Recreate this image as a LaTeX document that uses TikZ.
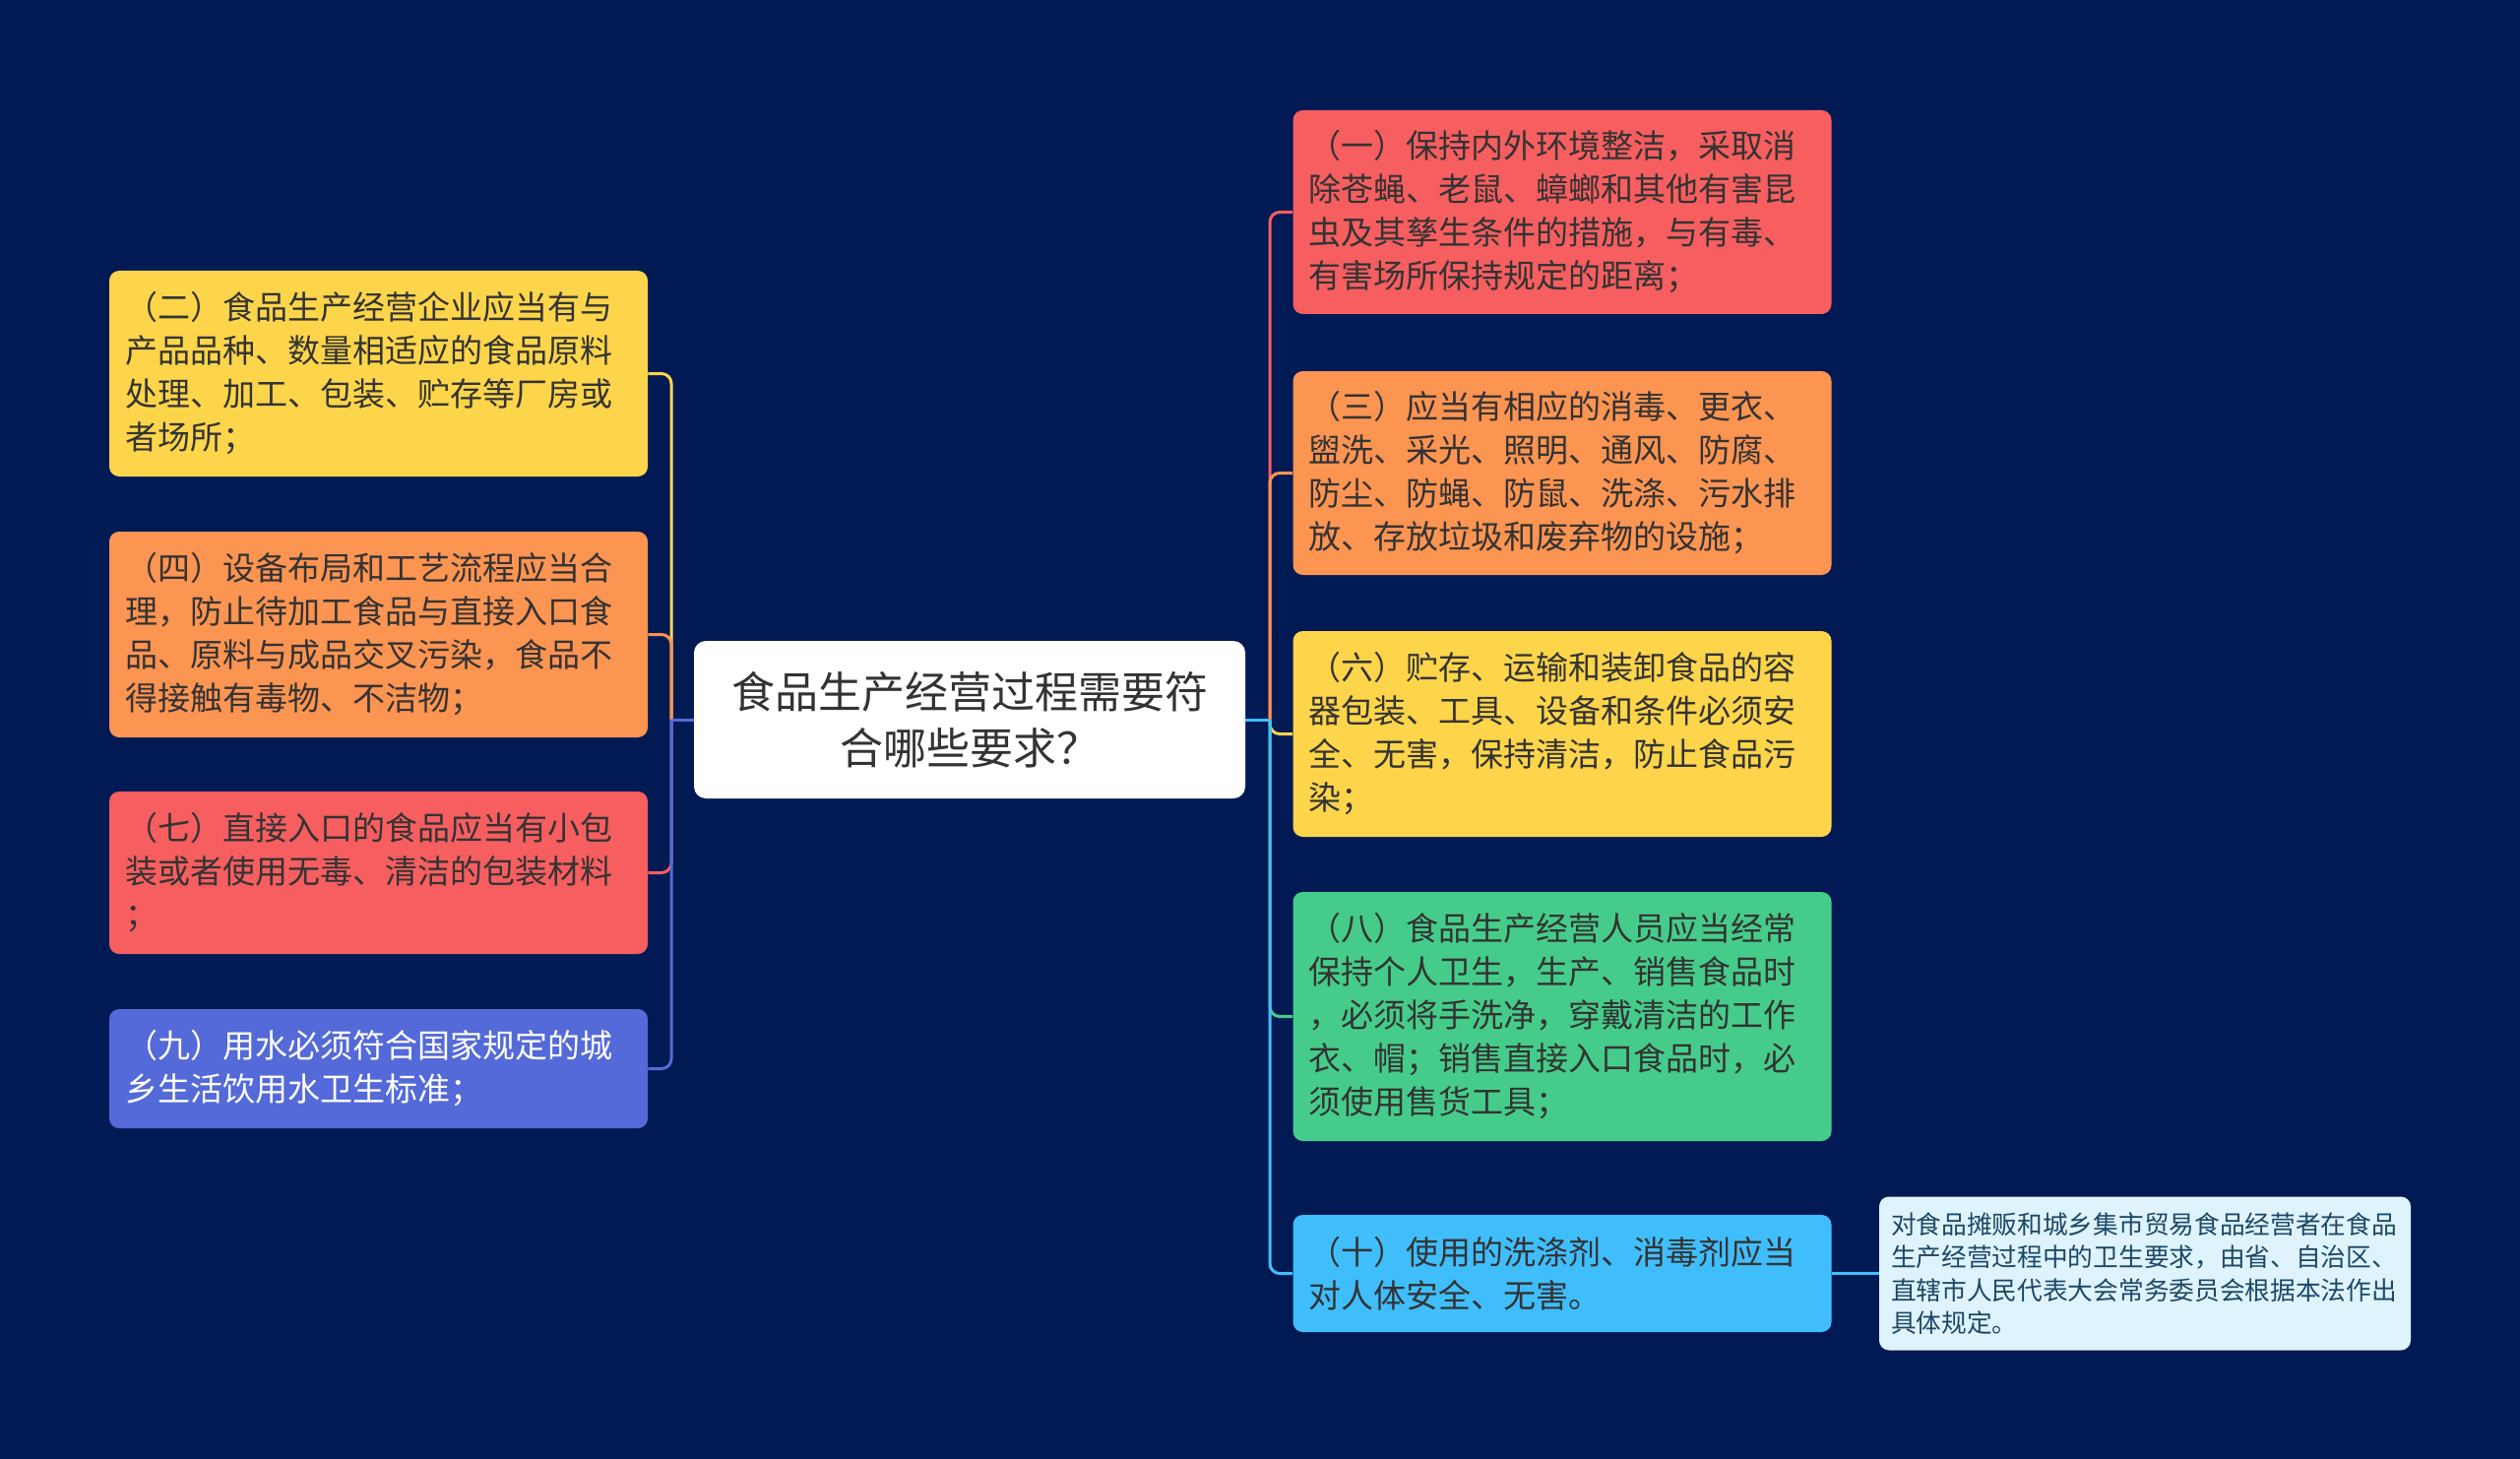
\documentclass[tikz,border=0pt]{standalone}
\usepackage{fontspec}
\setmainfont{Noto Sans CJK SC}
\usetikzlibrary{positioning}

\definecolor{bgnavy}{RGB}{2,26,84}
\definecolor{cred}{RGB}{246,94,96}
\definecolor{corange}{RGB}{252,148,82}
\definecolor{cyellow}{RGB}{253,213,74}
\definecolor{cgreen}{RGB}{70,204,138}
\definecolor{ccyan}{RGB}{64,190,252}
\definecolor{cblue}{RGB}{84,106,216}
\definecolor{notefill}{RGB}{222,243,252}
\definecolor{notetext}{RGB}{28,72,102}
\definecolor{txtdark}{RGB}{51,51,51}

\begin{document}
\begin{tikzpicture}
    [x=0.5pt, y=-0.5pt,
     root/.style={fill=white, rounded corners=6pt, align=center, minimum width=280pt, minimum height=80pt, font=\fontsize{22pt}{28.5pt}\selectfont, text=txtdark},
     item/.style={rounded corners=5pt, inner xsep=8pt, inner ysep=0pt, text width=257.5pt, align=left, font=\fontsize{16.5pt}{22pt}\selectfont, text=txtdark},
     note/.style={fill=notefill, rounded corners=5pt, inner xsep=6pt, inner ysep=0pt, text width=258pt, align=left, minimum height=78pt, font=\fontsize{12.85pt}{16.75pt}\selectfont, text=notetext},
     link/.style={line width=1.5pt, rounded corners=5pt}]
    \fill[bgnavy] (0,0) rectangle (2560,1482);

    % centre
    \node[root] (c) at (985,731) {食品生产经营过程需要符\\合哪些要求？};
    \coordinate (lj) at (682,731);
    \coordinate (rj) at (1290,731);

    % left side
    \node[item, fill=cyellow, minimum height=104.5pt] (n2) at (384.5,379.5) {（二）食品生产经营企业应当有与\\产品品种、数量相适应的食品原料\\处理、加工、包装、贮存等厂房或\\者场所；};
    \node[item, fill=corange, minimum height=104.5pt] (n4) at (384.5,644.5) {（四）设备布局和工艺流程应当合\\理，防止待加工食品与直接入口食\\品、原料与成品交叉污染，食品不\\得接触有毒物、不洁物；};
    \node[item, fill=cred, minimum height=82.5pt] (n7) at (384.5,886.5) {（七）直接入口的食品应当有小包\\装或者使用无毒、清洁的包装材料\\；};
    \node[item, fill=cblue, minimum height=60.5pt, text=white] (n9) at (384.5,1085.5) {（九）用水必须符合国家规定的城\\乡生活饮用水卫生标准；};

    % right side
    \node[item, fill=cred, minimum height=103.5pt] (n1) at (1587,215.5) {（一）保持内外环境整洁，采取消\\除苍蝇、老鼠、蟑螂和其他有害昆\\虫及其孳生条件的措施，与有毒、\\有害场所保持规定的距离；};
    \node[item, fill=corange, minimum height=103.5pt] (n3) at (1587,480.5) {（三）应当有相应的消毒、更衣、\\盥洗、采光、照明、通风、防腐、\\防尘、防蝇、防鼠、洗涤、污水排\\放、存放垃圾和废弃物的设施；};
    \node[item, fill=cyellow, minimum height=104.5pt] (n6) at (1587,745.5) {（六）贮存、运输和装卸食品的容\\器包装、工具、设备和条件必须安\\全、无害，保持清洁，防止食品污\\染；};
    \node[item, fill=cgreen, minimum height=126.5pt] (n8) at (1587,1032.5) {（八）食品生产经营人员应当经常\\保持个人卫生，生产、销售食品时\\，必须将手洗净，穿戴清洁的工作\\衣、帽；销售直接入口食品时，必\\须使用售货工具；};
    \node[item, fill=ccyan, minimum height=59.5pt] (n10) at (1587,1293.5) {（十）使用的洗涤剂、消毒剂应当\\对人体安全、无害。};
    \node[note] (nt) at (2179,1293.5) {对食品摊贩和城乡集市贸易食品经营者在食品\\生产经营过程中的卫生要求，由省、自治区、\\直辖市人民代表大会常务委员会根据本法作出\\具体规定。};

    % connectors
    \draw[link, cyellow] (lj) |- (n2.east);
    \draw[link, corange] (lj) |- (n4.east);
    \draw[link, cred] (lj) |- (n7.east);
    \draw[link, cblue] (lj) |- (n9.east);
    \draw[link, cblue] (c.west) -- (lj);
    \draw[link, cred] (rj) |- (n1.west);
    \draw[link, corange] (rj) |- (n3.west);
    \draw[link, cyellow] (rj) |- (n6.west);
    \draw[link, cgreen] (rj) |- (n8.west);
    \draw[link, ccyan] (rj) |- (n10.west);
    \draw[link, ccyan] (c.east) -- (rj);
    \draw[link, ccyan] (n10.east) -- (nt.west);
\end{tikzpicture}
\end{document}
